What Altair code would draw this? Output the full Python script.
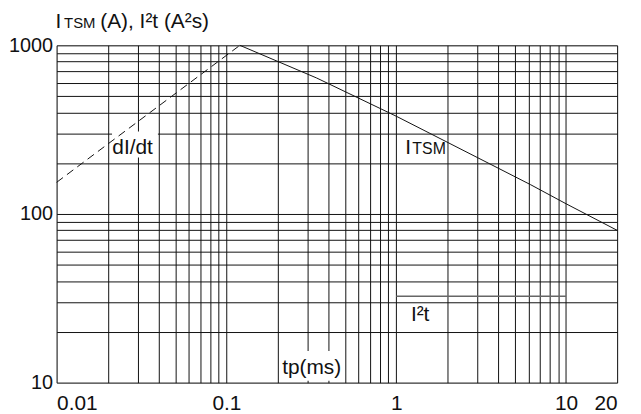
import altair as alt
import pandas as pd

# ---- data ----
itsm_t = [0.12, 0.34, 1, 6.2, 10, 20]
itsm_a = [1000, 640, 380, 149, 115, 80]

didt_t = [0.01, 0.12]
didt_a = [154, 1000]

i2t_t = [1, 10]
i2t_v = [32.5, 32.5]

x_grid = [0.01, 0.02, 0.03, 0.04, 0.05, 0.06, 0.07, 0.08, 0.09,
          0.1, 0.2, 0.3, 0.4, 0.5, 0.6, 0.7, 0.8, 0.9,
          1, 2, 3, 4, 5, 6, 7, 8, 9, 10, 20]
y_grid = [10, 20, 30, 40, 50, 60, 70, 80, 90,
          100, 200, 300, 400, 500, 600, 700, 800, 900, 1000]
x_labels = [0.01, 0.1, 1, 10, 20]
y_labels = [10, 100, 1000]

FONT = "Liberation Sans"
INK = "#111111"
FS = 21

xscale = alt.Scale(type="log", domain=[0.01, 20], nice=False)
yscale = alt.Scale(type="log", domain=[10, 1000], nice=False)

x_lab_expr = "indexof(" + str(x_labels) + ", datum.value) >= 0 ? format(datum.value, '~g') : ''"
y_lab_expr = "indexof(" + str(y_labels) + ", datum.value) >= 0 ? format(datum.value, '~g') : ''"

xaxis = alt.Axis(values=x_grid, labelExpr=x_lab_expr, title=None, grid=True,
                 ticks=False, domain=False, labelPadding=10, labelFontSize=FS,
                 labelFont=FONT, labelColor=INK, gridColor=INK, gridOpacity=1,
                 gridWidth=1, labelOverlap=False)
yaxis = alt.Axis(values=y_grid, labelExpr=y_lab_expr, title=None, grid=True,
                 ticks=False, domain=False, labelPadding=4, labelFontSize=20,
                 labelFont=FONT, labelColor=INK, gridColor=INK, gridOpacity=1,
                 gridWidth=1, labelOverlap=False)

itsm_df = pd.DataFrame({"t": itsm_t, "a": itsm_a})
didt_df = pd.DataFrame({"t": didt_t, "a": didt_a})
i2t_df = pd.DataFrame({"t": i2t_t, "a": i2t_v})
one = pd.DataFrame({"k": [0]})

itsm = alt.Chart(itsm_df).mark_line(color=INK, strokeWidth=1).encode(
    x=alt.X("t:Q", scale=xscale, axis=xaxis),
    y=alt.Y("a:Q", scale=yscale, axis=yaxis),
)
didt = alt.Chart(didt_df).mark_line(color=INK, strokeWidth=1, strokeDash=[8, 5]).encode(
    x=alt.X("t:Q"), y=alt.Y("a:Q"))
i2t = alt.Chart(i2t_df).mark_line(color="#666666", strokeWidth=1.5).encode(
    x=alt.X("t:Q"), y=alt.Y("a:Q"))

# white backgrounds behind two labels (as in the reference)
box1 = alt.Chart(one).mark_rect(color="white").encode(
    x=alt.datum(0.0212), x2=alt.datum(0.0395), y=alt.datum(308), y2=alt.datum(216))
box2 = alt.Chart(one).mark_rect(color="white").encode(
    x=alt.datum(0.213), x2=alt.datum(0.49), y=alt.datum(15.4), y2=alt.datum(10.25))


def txt(s, x, y, size=FS):
    return alt.Chart(one).mark_text(text=s, align="left", baseline="alphabetic",
                                    font=FONT, fontSize=size, fontWeight="normal",
                                    color=INK).encode(
        x=alt.datum(x), y=alt.datum(y))


def ptxt(s, x, y, size=FS):
    return alt.Chart(one).mark_text(text=s, align="left", baseline="alphabetic",
                                    font=FONT, fontSize=size, fontWeight="normal",
                                    color=INK).encode(
        x=alt.value(x), y=alt.value(y))


labels = [
    txt("dI/dt", 0.0213, 228),
    txt("I", 1.13, 228),
    txt("TSM", 1.245, 228, 16),
    txt("I²t", 1.22, 23.2),
    txt("tp(ms)", 0.213, 11.3),
    ptxt("I", -1, -17),
    ptxt("TSM", 7.5, -17, 15),
    ptxt("(A), I²t (A²s)", 44, -17),
]

chart = alt.layer(itsm, box1, box2, i2t, didt, *labels).properties(
    width=565, height=340,
    autosize=alt.AutoSizeParams(type="none"),
    padding={"left": 49, "top": 36, "right": 16, "bottom": 30},
).configure_view(stroke=None).configure(background="white")

chart.save("out.html", embed_options={"renderer": "svg", "actions": False})
